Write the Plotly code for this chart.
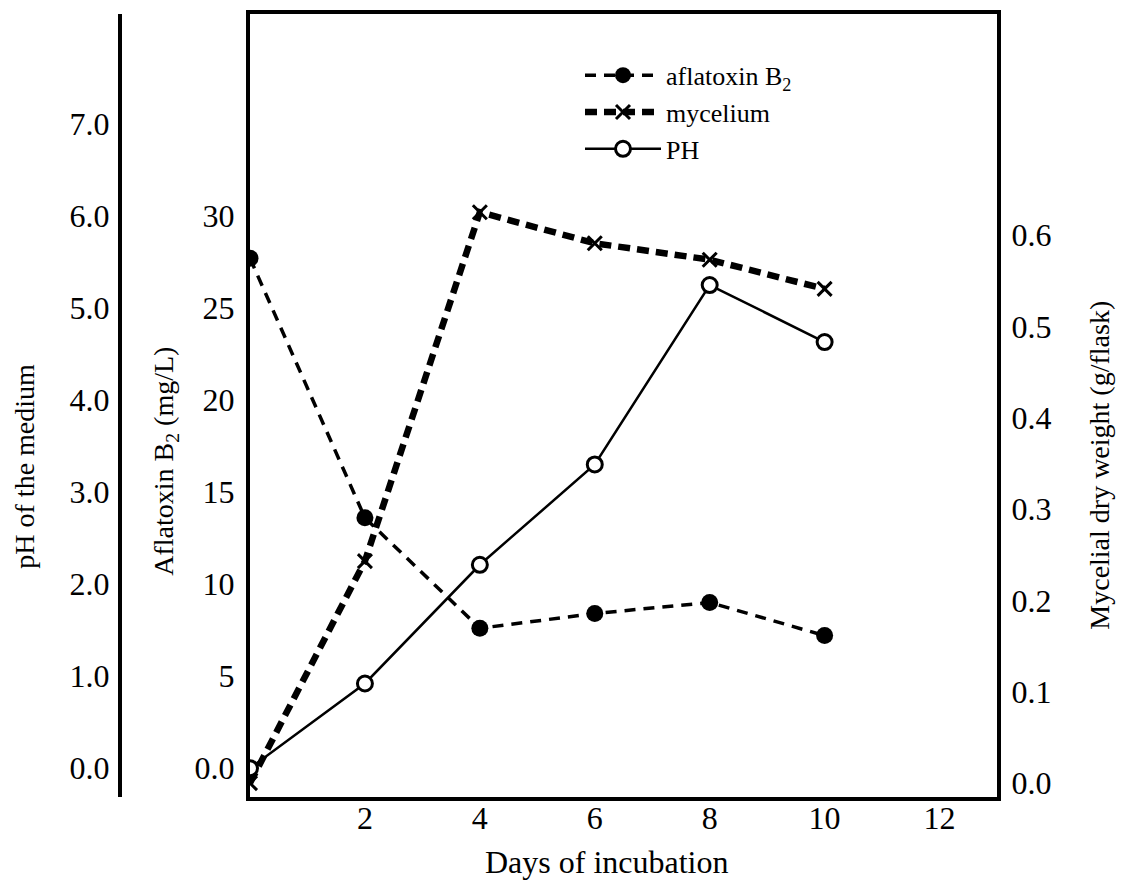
import plotly.graph_objects as go

# ---- data ----
days = [0, 2, 4, 6, 8, 10]
aflatoxin_b2 = [27.7, 13.6, 7.6, 8.4, 9.0, 7.2]          # mg/L (left inner axis)
mycelium = [0.0, 0.243, 0.625, 0.591, 0.573, 0.541]       # g/flask (right axis)
ph = [0.0, 0.92, 2.21, 3.30, 5.25, 4.63]                   # pH (left outer axis)

x_ticks = [2, 4, 6, 8, 10, 12]
x_ticktext = ["2", "4", "6", "8", "10", "12"]
afl_ticks = [0, 5, 10, 15, 20, 25, 30]
afl_ticktext = ["0.0", "5", "10", "15", "20", "25", "30"]
ph_ticks = [0, 1, 2, 3, 4, 5, 6, 7]
ph_ticktext = ["0.0", "1.0", "2.0", "3.0", "4.0", "5.0", "6.0", "7.0"]
myc_ticks = [0, 0.1, 0.2, 0.3, 0.4, 0.5, 0.6]
myc_ticktext = ["0.0", "0.1", "0.2", "0.3", "0.4", "0.5", "0.6"]

FONT = "Liberation Serif"
W, H = 1126, 890
OFF = 8                      # page body margin of the html page
ML, MR, MT, MB = 92, 137, 2, 101
PW = W - ML - MR
PH_ = H - MT - MB


def px_x(p):
    """picture x pixel -> paper fraction"""
    return (p - OFF - ML) / PW


def px_y(p):
    """picture y pixel -> paper fraction"""
    return (H - MB - (p - OFF)) / PH_


fig = go.Figure()
fig.add_trace(go.Scatter(
    x=days, y=aflatoxin_b2, name="aflatoxin B<sub>2</sub>", yaxis="y",
    mode="lines+markers",
    line=dict(color="black", width=3.5, dash="11px,8px"),
    marker=dict(symbol="circle", size=17, color="black"),
))
fig.add_trace(go.Scatter(
    x=days, y=mycelium, name="mycelium", yaxis="y2",
    mode="lines+markers",
    line=dict(color="black", width=6.5, dash="12px,7px"),
    marker=dict(symbol="x-thin", size=14, color="black",
                line=dict(color="black", width=3)),
))
fig.add_trace(go.Scatter(
    x=days, y=ph, name="PH", yaxis="y3",
    mode="lines+markers",
    line=dict(color="black", width=2.5),
    marker=dict(symbol="circle", size=15, color="white",
                line=dict(color="black", width=3)),
))

axis_common = dict(showgrid=False, zeroline=False, showline=True,
                   linecolor="black", linewidth=4, ticks="",
                   tickfont=dict(family=FONT, size=32, color="black"))

fig.update_layout(
    width=W, height=H,
    margin=dict(l=ML, r=MR, t=MT, b=MB),
    paper_bgcolor="white", plot_bgcolor="white",
    font=dict(family=FONT, color="black"),
    xaxis=dict(domain=[px_x(250), 1], range=[0, 13],
               tickvals=x_ticks, ticktext=x_ticktext, mirror=True,
               ticklabelstandoff=-10, **axis_common),
    yaxis=dict(range=[-1.568, 40.97], tickvals=afl_ticks, ticktext=afl_ticktext,
               ticklabelstandoff=5, **axis_common),
    yaxis2=dict(range=[-0.01525, 0.842], overlaying="y", side="right", anchor="x",
                tickvals=myc_ticks, ticktext=myc_ticktext,
                ticklabelstandoff=4, **axis_common),
    yaxis3=dict(range=[-0.3135, 8.195], overlaying="y", side="left", anchor="free",
                position=px_x(120), tickvals=ph_ticks, ticktext=ph_ticktext,
                ticklabelstandoff=2, **axis_common),
    legend=dict(x=px_x(580), y=px_y(48), xanchor="left", yanchor="top",
                font=dict(family=FONT, size=26, color="black"),
                bgcolor="rgba(0,0,0,0)", itemwidth=76, tracegroupgap=0),
    showlegend=True,
)

title_font = dict(family=FONT, size=28, color="black")
ann_common = dict(xref="paper", yref="paper", showarrow=False,
                  xanchor="center", yanchor="middle")
fig.add_annotation(text="pH of the medium", x=px_x(25), y=px_y(465),
                   textangle=-90, font=title_font, **ann_common)
fig.add_annotation(text="Aflatoxin B<sub>2</sub> (mg/L)", x=px_x(166), y=px_y(460),
                   textangle=-90, font=title_font, **ann_common)
fig.add_annotation(text="Mycelial dry weight (g/flask)", x=px_x(1100), y=px_y(464),
                   textangle=-90, font=title_font, **ann_common)
fig.add_annotation(text="Days of incubation", x=px_x(607), y=px_y(862),
                   font=dict(family=FONT, size=32, color="black"), **ann_common)

fig.write_html("out.html")
